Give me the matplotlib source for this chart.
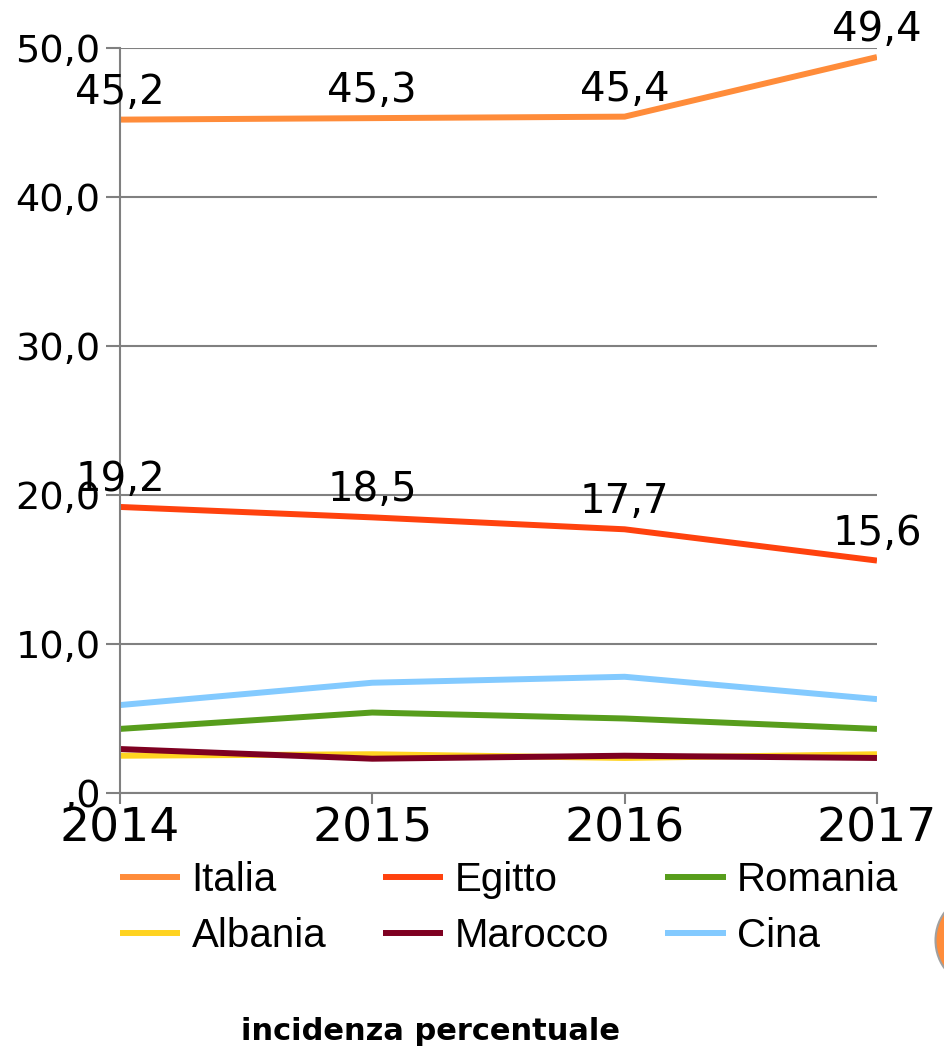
import matplotlib.pyplot as plt
from matplotlib.patches import Circle

plt.rcParams['font.family'] = ['DejaVu Sans']

years = ["2014", "2015", "2016", "2017"]
italia = [45.2, 45.3, 45.4, 49.4]
egitto = [19.2, 18.5, 17.7, 15.6]
romania = [4.3, 5.4, 5.0, 4.3]
albania = [2.5, 2.6, 2.35, 2.6]
marocco = [2.95, 2.3, 2.5, 2.35]
cina = [5.9, 7.4, 7.8, 6.3]

series = [("Italia", italia, "#ff8c3a"), ("Egitto", egitto, "#ff420e"),
          ("Romania", romania, "#579d1c"), ("Albania", albania, "#ffd320"),
          ("Marocco", marocco, "#7e0021"), ("Cina", cina, "#83caff")]
labelled = ["Italia", "Egitto"]

fig = plt.figure(figsize=(9.44, 10.46), dpi=100)
ax = fig.add_axes([0.127, 0.2419, 0.802, 0.7121])
x = list(range(len(years)))

lines = {}
for name, vals, col in series:
    ln, = ax.plot(x, vals, color=col, lw=4.3, label=name, solid_capstyle="butt")
    lines[name] = ln
    if name in labelled:
        for xi, v in zip(x, vals):
            ax.annotate(f"{v:.1f}".replace(".", ","), (xi, v), xytext=(0, 11.5),
                        textcoords="offset points", ha="center", va="baseline",
                        fontsize=29)

ax.set_xlim(0, 3)
ax.set_ylim(0, 50)
ax.set_yticks([0, 10, 20, 30, 40, 50])
ax.set_yticklabels([",0", "10,0", "20,0", "30,0", "40,0", "50,0"], fontsize=27.5)
ax.set_xticks(x)
ax.set_xticklabels(years, fontsize=34)
ax.yaxis.grid(True, color="#808080", lw=1.5)
ax.set_axisbelow(True)
for s in ["top", "right"]:
    ax.spines[s].set_visible(False)
for s in ["left", "bottom"]:
    ax.spines[s].set_color("#808080")
    ax.spines[s].set_linewidth(1.5)
ax.tick_params(axis="y", length=10, width=1.5, color="#808080", pad=4)
ax.tick_params(axis="x", length=8, width=1.5, color="#808080", pad=2)

# legend fills column-wise, reorder so rows read like the original
order = ["Italia", "Albania", "Egitto", "Marocco", "Romania", "Cina"]
leg = fig.legend([lines[n] for n in order], order, loc="upper left",
                 bbox_to_anchor=(0.127, 0.177), ncol=3, frameon=False,
                 borderpad=0, borderaxespad=0,
                 prop={"family": "Liberation Sans", "size": 29}, handlelength=1.5,
                 handletextpad=0.28, columnspacing=1.4, labelspacing=0.45)

fig.text(0.456, 0.006, "incidenza percentuale", ha="center", va="baseline",
         fontsize=22, fontweight="bold")

fig.patches.append(Circle((1.033, 0.101), 0.042, transform=fig.transFigure,
                          facecolor="#ff8c3a", edgecolor="#a0a0a0", lw=1.5))

fig.savefig("out.png", dpi=100)
